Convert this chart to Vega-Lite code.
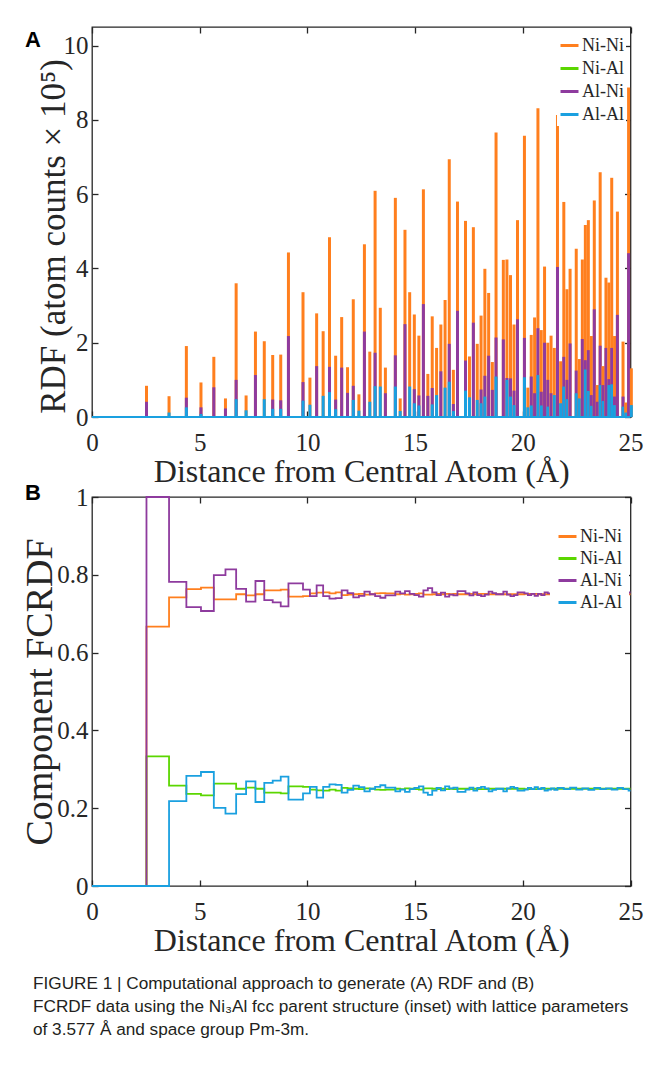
{
  "$schema": "https://vega.github.io/schema/vega-lite/v6.json",
  "background": "white",
  "padding": {"left": 20, "top": 25, "right": 0, "bottom": 8},
  "config": {
    "view": {"stroke": "#262626", "strokeWidth": 1.3},
    "axis": {"grid": false, "domain": false, "labelFlush": false, "labelFont": "Liberation Serif", "labelFontSize": 25, "labelColor": "#262626", "titleFont": "Liberation Serif", "titleFontSize": 32, "titleFontWeight": "normal", "titleColor": "#262626", "tickColor": "#262626", "tickWidth": 1.3, "tickSize": -6}
  },
  "datasets": {
    "rdf": [
      {"r": 2.529, "Ni-Ni": 0.84, "Al-Ni": 0.41, "Al-Al": 0},
      {"r": 3.577, "Ni-Ni": 0.56, "Al-Ni": 0, "Al-Al": 0.12},
      {"r": 4.381, "Ni-Ni": 1.91, "Al-Ni": 0.52, "Al-Al": 0.26},
      {"r": 5.059, "Ni-Ni": 0.93, "Al-Ni": 0.26, "Al-Al": 0.08},
      {"r": 5.656, "Ni-Ni": 1.62, "Al-Ni": 0.8, "Al-Al": 0},
      {"r": 6.196, "Ni-Ni": 0.5, "Al-Ni": 0.23, "Al-Al": 0},
      {"r": 6.692, "Ni-Ni": 3.6, "Al-Ni": 1.0, "Al-Al": 0.48},
      {"r": 7.154, "Ni-Ni": 0.58, "Al-Ni": 0, "Al-Al": 0.18},
      {"r": 7.588, "Ni-Ni": 2.3, "Al-Ni": 1.13, "Al-Al": 0},
      {"r": 7.998, "Ni-Ni": 2.04, "Al-Ni": 0, "Al-Al": 0.48},
      {"r": 8.389, "Ni-Ni": 1.67, "Al-Ni": 0.47, "Al-Al": 0.22},
      {"r": 8.762, "Ni-Ni": 1.68, "Al-Ni": 0.45, "Al-Al": 0.22},
      {"r": 9.12, "Ni-Ni": 4.43, "Al-Ni": 2.18, "Al-Al": 0},
      {"r": 9.796, "Ni-Ni": 3.36, "Al-Ni": 0.94, "Al-Al": 0.44},
      {"r": 10.117, "Ni-Ni": 1.06, "Al-Ni": 0, "Al-Al": 0.33},
      {"r": 10.429, "Ni-Ni": 2.79, "Al-Ni": 1.37, "Al-Al": 0},
      {"r": 10.731, "Ni-Ni": 2.31, "Al-Ni": 0, "Al-Al": 0.57},
      {"r": 11.025, "Ni-Ni": 4.84, "Al-Ni": 1.35, "Al-Al": 0.67},
      {"r": 11.311, "Ni-Ni": 1.65, "Al-Ni": 0.47, "Al-Al": 0.21},
      {"r": 11.591, "Ni-Ni": 2.69, "Al-Ni": 1.33, "Al-Al": 0},
      {"r": 11.863, "Ni-Ni": 1.34, "Al-Ni": 0.65, "Al-Al": 0},
      {"r": 12.13, "Ni-Ni": 3.17, "Al-Ni": 0.84, "Al-Al": 0.46},
      {"r": 12.391, "Ni-Ni": 0.61, "Al-Ni": 0, "Al-Al": 0.17},
      {"r": 12.647, "Ni-Ni": 4.65, "Al-Ni": 2.3, "Al-Al": 0},
      {"r": 12.897, "Ni-Ni": 1.76, "Al-Ni": 0, "Al-Al": 0.41},
      {"r": 13.143, "Ni-Ni": 6.09, "Al-Ni": 1.73, "Al-Al": 0.83},
      {"r": 13.384, "Ni-Ni": 2.94, "Al-Ni": 0, "Al-Al": 0.82},
      {"r": 13.621, "Ni-Ni": 1.33, "Al-Ni": 0.64, "Al-Al": 0},
      {"r": 14.083, "Ni-Ni": 5.9, "Al-Ni": 1.66, "Al-Al": 0.82},
      {"r": 14.308, "Ni-Ni": 0.5, "Al-Ni": 0, "Al-Al": 0.16},
      {"r": 14.53, "Ni-Ni": 5.04, "Al-Ni": 2.5, "Al-Al": 0},
      {"r": 14.748, "Ni-Ni": 3.36, "Al-Ni": 0, "Al-Al": 0.82},
      {"r": 14.964, "Ni-Ni": 2.76, "Al-Ni": 0.75, "Al-Al": 0.37},
      {"r": 15.176, "Ni-Ni": 2.19, "Al-Ni": 0.58, "Al-Al": 0.31},
      {"r": 15.385, "Ni-Ni": 6.13, "Al-Ni": 3.04, "Al-Al": 0},
      {"r": 15.592, "Ni-Ni": 1.16, "Al-Ni": 0.57, "Al-Al": 0},
      {"r": 15.795, "Ni-Ni": 2.71, "Al-Ni": 0.78, "Al-Al": 0.34},
      {"r": 15.997, "Ni-Ni": 1.86, "Al-Ni": 0, "Al-Al": 0.59},
      {"r": 16.196, "Ni-Ni": 2.49, "Al-Ni": 1.23, "Al-Al": 0},
      {"r": 16.392, "Ni-Ni": 3.15, "Al-Ni": 0, "Al-Al": 0.79},
      {"r": 16.586, "Ni-Ni": 6.94, "Al-Ni": 1.97, "Al-Al": 0.95},
      {"r": 16.777, "Ni-Ni": 1.27, "Al-Ni": 0.35, "Al-Al": 0.16},
      {"r": 16.967, "Ni-Ni": 5.8, "Al-Ni": 2.86, "Al-Al": 0},
      {"r": 17.34, "Ni-Ni": 5.28, "Al-Ni": 1.52, "Al-Al": 0.71},
      {"r": 17.524, "Ni-Ni": 1.63, "Al-Ni": 0, "Al-Al": 0.53},
      {"r": 17.705, "Ni-Ni": 5.11, "Al-Ni": 2.54, "Al-Al": 0},
      {"r": 17.885, "Ni-Ni": 1.97, "Al-Ni": 0, "Al-Al": 0.46},
      {"r": 18.063, "Ni-Ni": 2.73, "Al-Ni": 0.74, "Al-Al": 0.37},
      {"r": 18.239, "Ni-Ni": 3.99, "Al-Ni": 1.11, "Al-Al": 0.55},
      {"r": 18.414, "Ni-Ni": 3.34, "Al-Ni": 1.65, "Al-Al": 0},
      {"r": 18.586, "Ni-Ni": 1.48, "Al-Ni": 0.73, "Al-Al": 0},
      {"r": 18.758, "Ni-Ni": 7.66, "Al-Ni": 2.14, "Al-Al": 1.09},
      {"r": 19.096, "Ni-Ni": 4.23, "Al-Ni": 2.09, "Al-Al": 0},
      {"r": 19.263, "Ni-Ni": 4.24, "Al-Ni": 1.05, "Al-Al": 1.0},
      {"r": 19.428, "Ni-Ni": 3.82, "Al-Ni": 1.04, "Al-Al": 0.55},
      {"r": 19.592, "Ni-Ni": 2.49, "Al-Ni": 0.71, "Al-Al": 0.32},
      {"r": 19.755, "Ni-Ni": 5.3, "Al-Ni": 2.63, "Al-Al": 0},
      {"r": 20.076, "Ni-Ni": 7.57, "Al-Ni": 2.13, "Al-Al": 1.07},
      {"r": 20.234, "Ni-Ni": 0.79, "Al-Ni": 0, "Al-Al": 0.26},
      {"r": 20.392, "Ni-Ni": 2.21, "Al-Ni": 1.09, "Al-Al": 0.31},
      {"r": 20.548, "Ni-Ni": 2.68, "Al-Ni": 0.64, "Al-Al": 0},
      {"r": 20.703, "Ni-Ni": 8.31, "Al-Ni": 2.39, "Al-Al": 1.13},
      {"r": 20.857, "Ni-Ni": 2.34, "Al-Ni": 0.68, "Al-Al": 0.31},
      {"r": 21.01, "Ni-Ni": 4.05, "Al-Ni": 2.0, "Al-Al": 0},
      {"r": 21.162, "Ni-Ni": 2.0, "Al-Ni": 1.0, "Al-Al": 0.28},
      {"r": 21.312, "Ni-Ni": 2.19, "Al-Ni": 0.64, "Al-Al": 0},
      {"r": 21.462, "Ni-Ni": 1.86, "Al-Ni": 0, "Al-Al": 0.59},
      {"r": 21.61, "Ni-Ni": 8.13, "Al-Ni": 4.04, "Al-Al": 0},
      {"r": 21.758, "Ni-Ni": 1.5, "Al-Ni": 0, "Al-Al": 0.37},
      {"r": 21.904, "Ni-Ni": 5.79, "Al-Ni": 1.62, "Al-Al": 0.82},
      {"r": 22.05, "Ni-Ni": 3.44, "Al-Ni": 1.0, "Al-Al": 0.48},
      {"r": 22.195, "Ni-Ni": 3.99, "Al-Ni": 1.98, "Al-Al": 0},
      {"r": 22.481, "Ni-Ni": 4.53, "Al-Ni": 1.25, "Al-Al": 0.64},
      {"r": 22.623, "Ni-Ni": 1.56, "Al-Ni": 0, "Al-Al": 0.5},
      {"r": 22.764, "Ni-Ni": 4.24, "Al-Ni": 2.1, "Al-Al": 0},
      {"r": 22.904, "Ni-Ni": 5.17, "Al-Ni": 1.53, "Al-Al": 1.28},
      {"r": 23.043, "Ni-Ni": 5.3, "Al-Ni": 1.8, "Al-Al": 0.7},
      {"r": 23.181, "Ni-Ni": 2.18, "Al-Ni": 0.59, "Al-Al": 0.3},
      {"r": 23.319, "Ni-Ni": 5.83, "Al-Ni": 2.9, "Al-Al": 0},
      {"r": 23.456, "Ni-Ni": 0.86, "Al-Ni": 0.41, "Al-Al": 0},
      {"r": 23.592, "Ni-Ni": 6.59, "Al-Ni": 1.92, "Al-Al": 0.86},
      {"r": 23.727, "Ni-Ni": 1.37, "Al-Ni": 0.86, "Al-Al": 0.43},
      {"r": 23.861, "Ni-Ni": 3.75, "Al-Ni": 1.86, "Al-Al": 0},
      {"r": 23.995, "Ni-Ni": 3.62, "Al-Ni": 1.02, "Al-Al": 0.86},
      {"r": 24.128, "Ni-Ni": 6.44, "Al-Ni": 1.86, "Al-Al": 0.88},
      {"r": 24.26, "Ni-Ni": 2.18, "Al-Ni": 0.55, "Al-Al": 0.32},
      {"r": 24.392, "Ni-Ni": 5.53, "Al-Ni": 2.75, "Al-Al": 0},
      {"r": 24.653, "Ni-Ni": 2.03, "Al-Ni": 0.55, "Al-Al": 0.28},
      {"r": 24.782, "Ni-Ni": 0.39, "Al-Ni": 0, "Al-Al": 0.12},
      {"r": 24.911, "Ni-Ni": 8.87, "Al-Ni": 4.41, "Al-Al": 0},
      {"r": 25.039, "Ni-Ni": 1.31, "Al-Ni": 0, "Al-Al": 0.32}
    ],
    "fc": [
      {"r": 0, "Ni-Ni": 0, "Ni-Al": 0, "Al-Ni": 0, "Al-Al": 0},
      {"r": 2.529, "Ni-Ni": 0.667, "Ni-Al": 0.333, "Al-Ni": 1.0, "Al-Al": 0},
      {"r": 3.577, "Ni-Ni": 0.742, "Ni-Al": 0.258, "Al-Ni": 0.782, "Al-Al": 0.218},
      {"r": 4.381, "Ni-Ni": 0.763, "Ni-Al": 0.237, "Al-Ni": 0.717, "Al-Al": 0.283},
      {"r": 5.059, "Ni-Ni": 0.767, "Ni-Al": 0.233, "Al-Ni": 0.707, "Al-Al": 0.293},
      {"r": 5.656, "Ni-Ni": 0.737, "Ni-Al": 0.263, "Al-Ni": 0.799, "Al-Al": 0.201},
      {"r": 6.196, "Ni-Ni": 0.737, "Ni-Al": 0.263, "Al-Ni": 0.814, "Al-Al": 0.186},
      {"r": 6.692, "Ni-Ni": 0.75, "Ni-Al": 0.25, "Al-Ni": 0.764, "Al-Al": 0.236},
      {"r": 7.154, "Ni-Ni": 0.747, "Ni-Al": 0.253, "Al-Ni": 0.731, "Al-Al": 0.269},
      {"r": 7.588, "Ni-Ni": 0.75, "Ni-Al": 0.25, "Al-Ni": 0.784, "Al-Al": 0.216},
      {"r": 7.998, "Ni-Ni": 0.76, "Ni-Al": 0.24, "Al-Ni": 0.735, "Al-Al": 0.265},
      {"r": 8.389, "Ni-Ni": 0.76, "Ni-Al": 0.24, "Al-Ni": 0.729, "Al-Al": 0.271},
      {"r": 8.762, "Ni-Ni": 0.762, "Ni-Al": 0.238, "Al-Ni": 0.719, "Al-Al": 0.281},
      {"r": 9.12, "Ni-Ni": 0.744, "Ni-Al": 0.256, "Al-Ni": 0.778, "Al-Al": 0.222},
      {"r": 9.796, "Ni-Ni": 0.745, "Ni-Al": 0.255, "Al-Ni": 0.762, "Al-Al": 0.238},
      {"r": 10.117, "Ni-Ni": 0.752, "Ni-Al": 0.248, "Al-Ni": 0.745, "Al-Al": 0.255},
      {"r": 10.429, "Ni-Ni": 0.754, "Ni-Al": 0.246, "Al-Ni": 0.773, "Al-Al": 0.227},
      {"r": 10.731, "Ni-Ni": 0.755, "Ni-Al": 0.245, "Al-Ni": 0.745, "Al-Al": 0.255},
      {"r": 11.025, "Ni-Ni": 0.752, "Ni-Al": 0.248, "Al-Ni": 0.739, "Al-Al": 0.261},
      {"r": 11.311, "Ni-Ni": 0.755, "Ni-Al": 0.245, "Al-Ni": 0.74, "Al-Al": 0.26},
      {"r": 11.591, "Ni-Ni": 0.748, "Ni-Al": 0.252, "Al-Ni": 0.76, "Al-Al": 0.24},
      {"r": 11.863, "Ni-Ni": 0.749, "Ni-Al": 0.251, "Al-Ni": 0.753, "Al-Al": 0.247},
      {"r": 12.13, "Ni-Ni": 0.75, "Ni-Al": 0.25, "Al-Ni": 0.742, "Al-Al": 0.258},
      {"r": 12.391, "Ni-Ni": 0.751, "Ni-Al": 0.249, "Al-Ni": 0.746, "Al-Al": 0.254},
      {"r": 12.647, "Ni-Ni": 0.749, "Ni-Al": 0.251, "Al-Ni": 0.757, "Al-Al": 0.243},
      {"r": 12.897, "Ni-Ni": 0.75, "Ni-Al": 0.25, "Al-Ni": 0.75, "Al-Al": 0.25},
      {"r": 13.143, "Ni-Ni": 0.752, "Ni-Al": 0.248, "Al-Ni": 0.745, "Al-Al": 0.255},
      {"r": 13.384, "Ni-Ni": 0.753, "Ni-Al": 0.247, "Al-Ni": 0.741, "Al-Al": 0.259},
      {"r": 13.621, "Ni-Ni": 0.752, "Ni-Al": 0.248, "Al-Ni": 0.747, "Al-Al": 0.253},
      {"r": 14.083, "Ni-Ni": 0.75, "Ni-Al": 0.25, "Al-Ni": 0.757, "Al-Al": 0.243},
      {"r": 14.308, "Ni-Ni": 0.751, "Ni-Al": 0.249, "Al-Ni": 0.752, "Al-Al": 0.248},
      {"r": 14.53, "Ni-Ni": 0.749, "Ni-Al": 0.251, "Al-Ni": 0.758, "Al-Al": 0.242},
      {"r": 14.748, "Ni-Ni": 0.75, "Ni-Al": 0.25, "Al-Ni": 0.751, "Al-Al": 0.249},
      {"r": 14.964, "Ni-Ni": 0.751, "Ni-Al": 0.249, "Al-Ni": 0.748, "Al-Al": 0.252},
      {"r": 15.176, "Ni-Ni": 0.752, "Ni-Al": 0.248, "Al-Ni": 0.744, "Al-Al": 0.256},
      {"r": 15.385, "Ni-Ni": 0.749, "Ni-Al": 0.251, "Al-Ni": 0.76, "Al-Al": 0.24},
      {"r": 15.592, "Ni-Ni": 0.749, "Ni-Al": 0.251, "Al-Ni": 0.766, "Al-Al": 0.234},
      {"r": 15.795, "Ni-Ni": 0.75, "Ni-Al": 0.25, "Al-Ni": 0.755, "Al-Al": 0.245},
      {"r": 15.997, "Ni-Ni": 0.751, "Ni-Al": 0.249, "Al-Ni": 0.748, "Al-Al": 0.252},
      {"r": 16.196, "Ni-Ni": 0.75, "Ni-Al": 0.25, "Al-Ni": 0.754, "Al-Al": 0.246},
      {"r": 16.392, "Ni-Ni": 0.751, "Ni-Al": 0.249, "Al-Ni": 0.744, "Al-Al": 0.256},
      {"r": 16.586, "Ni-Ni": 0.75, "Ni-Al": 0.25, "Al-Ni": 0.749, "Al-Al": 0.251},
      {"r": 16.777, "Ni-Ni": 0.751, "Ni-Al": 0.249, "Al-Ni": 0.747, "Al-Al": 0.253},
      {"r": 16.967, "Ni-Ni": 0.75, "Ni-Al": 0.25, "Al-Ni": 0.758, "Al-Al": 0.242},
      {"r": 17.34, "Ni-Ni": 0.75, "Ni-Al": 0.25, "Al-Ni": 0.752, "Al-Al": 0.248},
      {"r": 17.524, "Ni-Ni": 0.751, "Ni-Al": 0.249, "Al-Ni": 0.747, "Al-Al": 0.253},
      {"r": 17.705, "Ni-Ni": 0.75, "Ni-Al": 0.25, "Al-Ni": 0.755, "Al-Al": 0.245},
      {"r": 17.885, "Ni-Ni": 0.751, "Ni-Al": 0.249, "Al-Ni": 0.748, "Al-Al": 0.252},
      {"r": 18.063, "Ni-Ni": 0.751, "Ni-Al": 0.249, "Al-Ni": 0.745, "Al-Al": 0.255},
      {"r": 18.239, "Ni-Ni": 0.751, "Ni-Al": 0.249, "Al-Ni": 0.749, "Al-Al": 0.251},
      {"r": 18.414, "Ni-Ni": 0.75, "Ni-Al": 0.25, "Al-Ni": 0.757, "Al-Al": 0.243},
      {"r": 18.586, "Ni-Ni": 0.75, "Ni-Al": 0.25, "Al-Ni": 0.753, "Al-Al": 0.247},
      {"r": 18.758, "Ni-Ni": 0.75, "Ni-Al": 0.25, "Al-Ni": 0.75, "Al-Al": 0.25},
      {"r": 19.096, "Ni-Ni": 0.75, "Ni-Al": 0.25, "Al-Ni": 0.757, "Al-Al": 0.243},
      {"r": 19.263, "Ni-Ni": 0.75, "Ni-Al": 0.25, "Al-Ni": 0.749, "Al-Al": 0.251},
      {"r": 19.428, "Ni-Ni": 0.75, "Ni-Al": 0.25, "Al-Ni": 0.745, "Al-Al": 0.255},
      {"r": 19.592, "Ni-Ni": 0.75, "Ni-Al": 0.25, "Al-Ni": 0.748, "Al-Al": 0.252},
      {"r": 19.755, "Ni-Ni": 0.75, "Ni-Al": 0.25, "Al-Ni": 0.755, "Al-Al": 0.245},
      {"r": 20.076, "Ni-Ni": 0.751, "Ni-Al": 0.249, "Al-Ni": 0.752, "Al-Al": 0.248},
      {"r": 20.234, "Ni-Ni": 0.751, "Ni-Al": 0.249, "Al-Ni": 0.748, "Al-Al": 0.252},
      {"r": 20.392, "Ni-Ni": 0.751, "Ni-Al": 0.249, "Al-Ni": 0.751, "Al-Al": 0.249},
      {"r": 20.548, "Ni-Ni": 0.751, "Ni-Al": 0.249, "Al-Ni": 0.746, "Al-Al": 0.254},
      {"r": 20.703, "Ni-Ni": 0.75, "Ni-Al": 0.25, "Al-Ni": 0.751, "Al-Al": 0.249},
      {"r": 20.857, "Ni-Ni": 0.75, "Ni-Al": 0.25, "Al-Ni": 0.748, "Al-Al": 0.252},
      {"r": 21.01, "Ni-Ni": 0.75, "Ni-Al": 0.25, "Al-Ni": 0.755, "Al-Al": 0.245},
      {"r": 21.162, "Ni-Ni": 0.75, "Ni-Al": 0.25, "Al-Ni": 0.752, "Al-Al": 0.248},
      {"r": 21.312, "Ni-Ni": 0.75, "Ni-Al": 0.25, "Al-Ni": 0.749, "Al-Al": 0.251},
      {"r": 21.462, "Ni-Ni": 0.75, "Ni-Al": 0.25, "Al-Ni": 0.753, "Al-Al": 0.247},
      {"r": 21.61, "Ni-Ni": 0.75, "Ni-Al": 0.25, "Al-Ni": 0.748, "Al-Al": 0.252},
      {"r": 21.904, "Ni-Ni": 0.75, "Ni-Al": 0.25, "Al-Ni": 0.751, "Al-Al": 0.249},
      {"r": 22.195, "Ni-Ni": 0.75, "Ni-Al": 0.25, "Al-Ni": 0.747, "Al-Al": 0.253},
      {"r": 22.481, "Ni-Ni": 0.75, "Ni-Al": 0.25, "Al-Ni": 0.752, "Al-Al": 0.248},
      {"r": 22.764, "Ni-Ni": 0.75, "Ni-Al": 0.25, "Al-Ni": 0.749, "Al-Al": 0.251},
      {"r": 23.043, "Ni-Ni": 0.75, "Ni-Al": 0.25, "Al-Ni": 0.753, "Al-Al": 0.247},
      {"r": 23.319, "Ni-Ni": 0.75, "Ni-Al": 0.25, "Al-Ni": 0.748, "Al-Al": 0.252},
      {"r": 23.592, "Ni-Ni": 0.75, "Ni-Al": 0.25, "Al-Ni": 0.751, "Al-Al": 0.249},
      {"r": 23.861, "Ni-Ni": 0.75, "Ni-Al": 0.25, "Al-Ni": 0.749, "Al-Al": 0.251},
      {"r": 24.128, "Ni-Ni": 0.75, "Ni-Al": 0.25, "Al-Ni": 0.752, "Al-Al": 0.248},
      {"r": 24.392, "Ni-Ni": 0.75, "Ni-Al": 0.25, "Al-Ni": 0.748, "Al-Al": 0.252},
      {"r": 24.653, "Ni-Ni": 0.75, "Ni-Al": 0.25, "Al-Ni": 0.751, "Al-Al": 0.249},
      {"r": 24.911, "Ni-Ni": 0.75, "Ni-Al": 0.25, "Al-Ni": 0.755, "Al-Al": 0.245},
      {"r": 25, "Ni-Ni": 0.75, "Ni-Al": 0.25, "Al-Ni": 0.755, "Al-Al": 0.245}
    ]
  },
  "title": {
    "text": ["FIGURE 1 | Computational approach to generate (A) RDF and (B)", "FCRDF data using the Ni₃Al fcc parent structure (inset) with lattice parameters", "of 3.577 Å and space group Pm-3m."],
    "orient": "bottom", "anchor": "start", "frame": "group",
    "font": "Liberation Sans Narrow, Liberation Sans", "fontSize": 17.2, "fontWeight": "normal", "color": "#231f20",
    "lineHeight": 23, "offset": 18, "dx": -59
  },
  "spacing": 80,
  "bounds": "flush",
  "resolve": {"scale": {"color": "independent"}, "legend": {"color": "independent"}},
  "vconcat": [
    {
      "width": 538.5,
      "height": 390,
      "title": {"text": "A", "anchor": "start", "frame": "group", "font": "Liberation Sans", "fontSize": 22, "fontWeight": "bold", "color": "black", "baseline": "alphabetic", "offset": 0, "dx": -67, "dy": 43},
      "data": {"name": "rdf"},
      "layer": [
        {
          "transform": [{"fold": ["Ni-Ni", "Al-Ni", "Al-Al"], "as": ["pair", "v"]}],
          "mark": {"type": "rule", "strokeWidth": 3},
          "encoding": {
            "x": {"field": "r", "type": "quantitative", "scale": {"domain": [0, 25], "nice": false, "zero": false},
                  "axis": {"values": [0, 5, 10, 15, 20, 25], "title": "Distance from Central Atom (Å)", "labelPadding": 19, "titlePadding": 1}},
            "y": {"field": "v", "type": "quantitative", "scale": {"domain": [0, 10.5], "nice": false},
                  "axis": {"values": [0, 2, 4, 6, 8, 10], "format": "d", "title": "RDF (atom counts × 10⁵)", "titleFontSize": 35, "labelPadding": 10, "titleX": -28, "titleY": 209, "titleBaseline": "alphabetic"}},
            "y2": {"datum": 0},
            "color": {"field": "pair", "type": "nominal",
                      "scale": {"domain": ["Ni-Ni", "Ni-Al", "Al-Ni", "Al-Al"], "range": ["#FF7F1E", "#5BD600", "#8E3B9E", "#1AA0E0"]},
                      "legend": {"orient": "none", "legendX": 465, "legendY": 6, "title": null, "symbolType": "stroke", "symbolSize": 324, "symbolStrokeWidth": 3, "labelFont": "Liberation Serif", "labelFontSize": 18, "labelColor": "#262626", "fillColor": "white", "padding": 2, "rowPadding": 3, "labelOffset": 2}}
          }
        },
        {
          "data": {"values": [{}]},
          "mark": {"type": "rule", "color": "#1AA0E0", "strokeWidth": 2},
          "encoding": {"y": {"datum": 0, "type": "quantitative", "axis": null}}
        },
        {
          "transform": [{"fold": ["Ni-Ni", "Al-Ni", "Al-Al"], "as": ["pair", "v"]}],
          "mark": {"type": "point", "opacity": 0},
          "encoding": {
            "x": {"field": "r", "type": "quantitative", "axis": {"orient": "top", "labels": false, "title": null, "values": [0, 5, 10, 15, 20, 25]}},
            "y": {"field": "v", "type": "quantitative", "axis": {"orient": "right", "labels": false, "title": null, "values": [0, 2, 4, 6, 8, 10]}}
          }
        }
      ],
      "resolve": {"axis": {"x": "independent", "y": "independent"}}
    },
    {
      "width": 538.5,
      "height": 389,
      "title": {"text": "B", "anchor": "start", "frame": "group", "font": "Liberation Sans", "fontSize": 22, "fontWeight": "bold", "color": "black", "baseline": "alphabetic", "offset": 0, "dx": -67, "dy": 37},
      "data": {"name": "fc"},
      "layer": [
        {
          "transform": [{"fold": ["Ni-Ni", "Ni-Al", "Al-Ni", "Al-Al"], "as": ["pair", "v"]}],
          "mark": {"type": "line", "interpolate": "step-after"},
          "encoding": {
            "x": {"field": "r", "type": "quantitative", "scale": {"domain": [0, 25], "nice": false, "zero": false},
                  "axis": {"values": [0, 5, 10, 15, 20, 25], "title": "Distance from Central Atom (Å)", "labelPadding": 19, "titlePadding": 1}},
            "y": {"field": "v", "type": "quantitative", "scale": {"domain": [0, 1], "nice": false},
                  "axis": {"values": [0, 0.2, 0.4, 0.6, 0.8, 1], "format": "~g", "title": "Component FCRDF", "titleFontSize": 38, "labelPadding": 10, "titleX": -41, "titleBaseline": "alphabetic"}},
            "color": {"field": "pair", "type": "nominal",
                      "scale": {"domain": ["Ni-Ni", "Ni-Al", "Al-Ni", "Al-Al"], "range": ["#FF7F1E", "#5BD600", "#8E3B9E", "#1AA0E0"]},
                      "legend": {"orient": "none", "legendX": 458, "legendY": 22, "title": null, "symbolType": "stroke", "symbolSize": 324, "symbolStrokeWidth": 3, "labelFont": "Liberation Serif", "labelFontSize": 18, "labelColor": "#262626", "fillColor": "white", "padding": 7, "rowPadding": 2, "labelOffset": 2}},
            "strokeWidth": {"field": "pair", "type": "nominal", "scale": {"domain": ["Ni-Ni", "Ni-Al", "Al-Ni", "Al-Al"], "range": [1.8, 1.8, 2.8, 2.8]}, "legend": null}
          }
        },
        {
          "transform": [{"fold": ["Ni-Ni", "Ni-Al", "Al-Ni", "Al-Al"], "as": ["pair", "v"]}],
          "mark": {"type": "point", "opacity": 0},
          "encoding": {
            "x": {"field": "r", "type": "quantitative", "axis": {"orient": "top", "labels": false, "title": null, "values": [0, 5, 10, 15, 20, 25]}},
            "y": {"field": "v", "type": "quantitative", "axis": {"orient": "right", "labels": false, "title": null, "values": [0, 0.2, 0.4, 0.6, 0.8, 1]}}
          }
        }
      ],
      "resolve": {"axis": {"x": "independent", "y": "independent"}}
    }
  ]
}
